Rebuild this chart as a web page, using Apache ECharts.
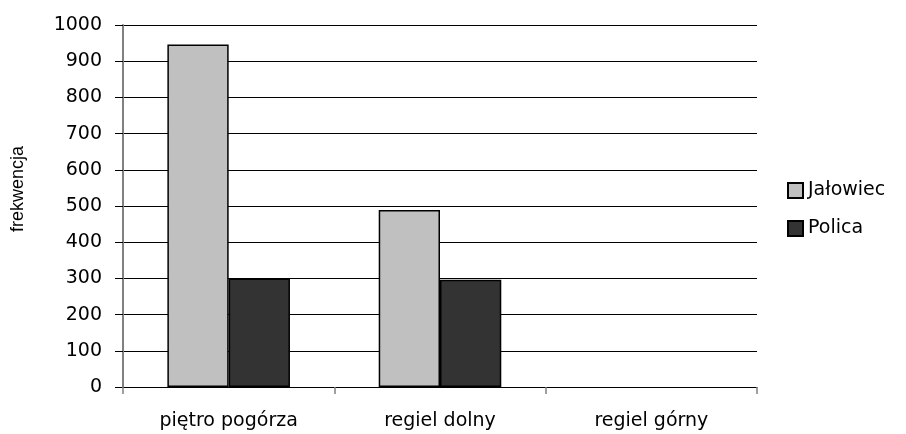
<!DOCTYPE html>
<html>
<head>
<meta charset="utf-8">
<script src="https://cdn.jsdelivr.net/npm/echarts@6/dist/echarts.min.js"></script>
<style>
  html, body { margin: 0; padding: 0; background: #fff; }
  #chart { width: 906px; height: 434px; }
</style>
</head>
<body>
<div id="chart"></div>
<script>
// Frekwencja w piętrach roślinności
const categories = ['piętro pogórza', 'regiel dolny', 'regiel górny'];
const jalowiec = [946, 489, 0];
const polica = [300, 296, 0];
const yTicks = { min: 0, max: 1000, interval: 100 };

const font = 'DejaVu Sans, sans-serif';
const nameFont = 'Liberation Sans, Arial, sans-serif';

// zero-height bars get no outline so nothing is drawn for them
const asBars = arr => arr.map(v => (v === 0 ? { value: v, itemStyle: { borderWidth: 0 } } : v));

const chart = echarts.init(document.getElementById('chart'), null, { renderer: 'canvas' });

chart.setOption({
  animation: false,
  backgroundColor: '#ffffff',
  grid: { left: 123, right: 149, top: 25, bottom: 47, containLabel: false },
  legend: {
    orient: 'vertical',
    left: 782,
    top: 176,
    icon: 'rect',
    itemWidth: 15,
    itemHeight: 15,
    itemGap: 19,
    textStyle: { fontFamily: font, fontSize: 19, color: '#000' },
    data: ['Jałowiec', 'Polica']
  },
  xAxis: {
    type: 'category',
    data: categories,
    axisLine: { lineStyle: { color: '#000', width: 1 } },
    axisTick: { show: true, alignWithLabel: false, length: 7, lineStyle: { color: '#808080', width: 1.5 } },
    axisLabel: { fontFamily: font, fontSize: 19, color: '#000', margin: 25 }
  },
  yAxis: {
    type: 'value',
    min: yTicks.min,
    max: yTicks.max,
    interval: yTicks.interval,
    name: 'frekwencja',
    nameLocation: 'middle',
    nameGap: 96,
    nameRotate: 90,
    nameTextStyle: { fontFamily: nameFont, fontSize: 18, color: '#000', padding: [0, 0, 0, 34] },
    axisLine: { show: true, lineStyle: { color: '#808080', width: 2 } },
    axisTick: { show: true, length: 8, lineStyle: { color: '#000' } },
    axisLabel: { fontFamily: font, fontSize: 19, color: '#000', margin: 21, formatter: v => String(v) },
    splitLine: { show: true, lineStyle: { color: '#000', width: 1 } }
  },
  series: [
    {
      name: 'Jałowiec',
      type: 'bar',
      data: asBars(jalowiec),
      barGap: '0%',
      barCategoryGap: '42%',
      itemStyle: { color: '#c0c0c0', borderColor: '#000', borderWidth: 1.5 }
    },
    {
      name: 'Polica',
      type: 'bar',
      data: asBars(polica),
      barGap: '0%',
      barCategoryGap: '42%',
      itemStyle: { color: '#333333', borderColor: '#000', borderWidth: 1.5 }
    }
  ]
});
</script>
</body>
</html>
